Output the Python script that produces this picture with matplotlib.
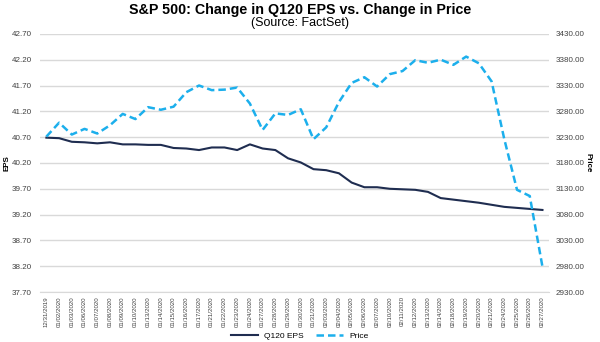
import matplotlib.pyplot as plt

plt.rcParams['font.family'] = ['Liberation Sans', 'DejaVu Sans']

# Dados
datas = ['12/31/2019', '01/02/2020', '01/03/2020', '01/06/2020', '01/07/2020', '01/08/2020',
         '01/09/2020', '01/10/2020', '01/13/2020', '01/14/2020', '01/15/2020', '01/16/2020',
         '01/17/2020', '01/21/2020', '01/22/2020', '01/23/2020', '01/24/2020', '01/27/2020',
         '01/28/2020', '01/29/2020', '01/30/2020', '01/31/2020', '02/03/2020', '02/04/2020',
         '02/05/2020', '02/06/2020', '02/07/2020', '02/10/2020', '02/11/2020', '02/12/2020',
         '02/13/2020', '02/14/2020', '02/18/2020', '02/19/2020', '02/20/2020', '02/21/2020',
         '02/24/2020', '02/25/2020', '02/26/2020', '02/27/2020']
eps = [40.69, 40.68, 40.61, 40.60, 40.58, 40.60, 40.56, 40.56, 40.55, 40.55,
       40.49, 40.48, 40.45, 40.50, 40.50, 40.45, 40.56, 40.48, 40.45, 40.29,
       40.21, 40.08, 40.06, 40.00, 39.82, 39.73, 39.73, 39.70, 39.69, 39.68,
       39.64, 39.52, 39.49, 39.46, 39.43, 39.39, 39.35, 39.33, 39.31, 39.29]
preco = [3231, 3258, 3235, 3246, 3237, 3253, 3275, 3265, 3288, 3283,
         3289, 3317, 3330, 3321, 3322, 3326, 3295, 3244, 3276, 3273,
         3284, 3226, 3249, 3298, 3335, 3346, 3328, 3352, 3358, 3379,
         3374, 3380, 3370, 3386, 3373, 3338, 3226, 3128, 3116, 2979]
ticks_eps = [37.70, 38.20, 38.70, 39.20, 39.70, 40.20, 40.70, 41.20, 41.70, 42.20, 42.70]
ticks_preco = [2930, 2980, 3030, 3080, 3130, 3180, 3230, 3280, 3330, 3380, 3430]

fig = plt.figure(figsize=(6, 3.42), dpi=100)
ax = fig.add_axes([0.0667, 0.146, 0.848, 0.755])
ax2 = ax.twinx()

x = range(len(datas))
l1, = ax.plot(x, eps, color='#1F2D50', lw=1.5, label='Q120 EPS', zorder=3)
l2, = ax2.plot(x, preco, color='#1CAFEC', lw=1.8, ls=(0, (3, 1.6)), label='Price')

ax.set_xlim(-0.5, len(datas) - 0.5)
ax.set_ylim(37.70, 42.70)
ax2.set_ylim(2930, 3430)
ax.set_yticks(ticks_eps)
ax.set_yticklabels([f'{v:.2f}' for v in ticks_eps])
ax2.set_yticks(ticks_preco)
ax2.set_yticklabels([f'{v:.2f}' for v in ticks_preco])
ax.set_xticks(list(x))
ax.set_xticklabels(datas, rotation=90, fontsize=4.4, color='#404040')

ax.grid(axis='y', color='#D9D9D9', lw=1)
ax.set_axisbelow(True)
for a in (ax, ax2):
    for s in a.spines.values():
        s.set_visible(False)
    a.tick_params(length=0, labelsize=5.8, colors='#404040')
ax.spines['bottom'].set_visible(True)
ax.spines['bottom'].set_color('#D9D9D9')
ax.tick_params(axis='x', pad=3, labelsize=4.4)
ax.tick_params(axis='y', pad=6)
ax2.tick_params(axis='y', pad=5)

ax.set_ylabel('EPS', fontsize=5.8, fontweight='bold', labelpad=1)
ax2.set_ylabel('Price', fontsize=5.8, fontweight='bold', rotation=270, labelpad=5)

fig.text(0.5, 0.972, 'S&P 500: Change in Q120 EPS vs. Change in Price', ha='center', va='center',
         fontsize=10.3, fontweight='bold')
fig.text(0.5, 0.932, '(Source: FactSet)', ha='center', va='center', fontsize=9)

fig.legend(handles=[l1, l2], loc='lower center', bbox_to_anchor=(0.5, -0.015), ncol=2,
           frameon=False, fontsize=6, handlelength=3.2, columnspacing=1.5)

fig.savefig('out.png', dpi=100)
